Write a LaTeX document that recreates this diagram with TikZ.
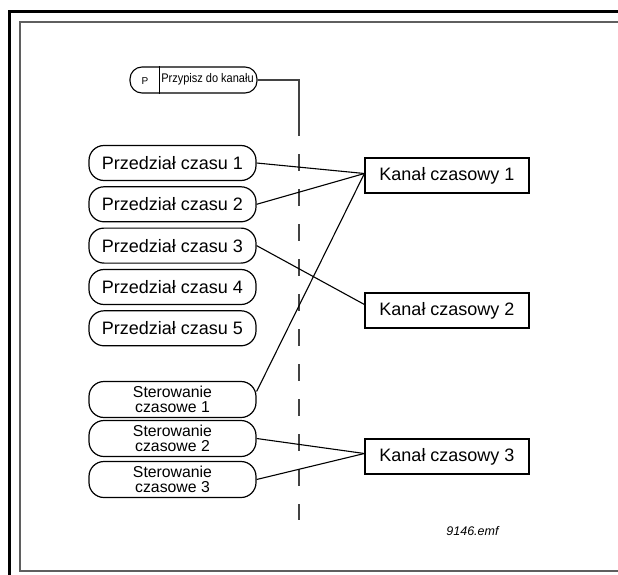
\documentclass[tikz,border=0pt]{standalone}
\usepackage{fontspec}
\setmainfont{Liberation Sans}
\usetikzlibrary{calc}
\definecolor{framegray}{RGB}{95,95,95}
\tikzset{
  pill/.style={draw, line width=1.2pt, rounded corners=15pt, minimum width=167pt, minimum height=35pt, inner sep=0pt, align=center},
  bigtxt/.style={font=\fontsize{18}{21}\selectfont},
  smalltxt/.style={font=\fontsize{15.8}{15}\selectfont},
  chanbox/.style={draw, line width=1.2pt, minimum width=164pt, minimum height=35pt, inner sep=0pt, font=\fontsize{18}{21}\selectfont},
  conn/.style={line width=1.1pt},
}
\begin{document}
\begin{tikzpicture}[x=1pt,y=-1pt]
\useasboundingbox (0,0) rectangle (618,575);
\clip (0,0) rectangle (618,575);
\fill[white] (0,0) rectangle (618,575);
% frames
\draw[line width=3pt, black] (9.5,12) rectangle (720,720);
\draw[line width=1.3pt, framegray] (20,22) rectangle (720,571);
% parameter pill
\node[draw, line width=1.1pt, rounded corners=12pt, minimum width=127pt, minimum height=26pt, inner sep=0pt] (pp) at (193.5,80) {};
\draw[line width=1.1pt] ([xshift=30pt]pp.north west) -- ([xshift=30pt]pp.south west);
\node[font=\fontsize{10}{12}\selectfont, inner sep=0pt] (ptag) at (145,81) {P};
\node[font=\fontsize{12.5}{14}\selectfont, inner sep=0pt] (ptxt) at (207.5,79) {\scalebox{0.88}[1]{Przypisz do kanału}};
% vertical line
\coordinate (vmid) at (299,136);
\coordinate (vbot) at (299,520);
\draw[line width=1.3pt, framegray!70!black] (pp.east) -| (vmid);
\draw[line width=1.3pt, framegray!70!black, dash pattern=on 17pt off 18pt, dash phase=17pt] (vmid) -- (vbot);
% time intervals
\node[pill, bigtxt] (p1) at (172.5,163) {Przedział czasu 1};
\node[pill, bigtxt] (p2) at (172.5,204.3) {Przedział czasu 2};
\node[pill, bigtxt] (p3) at (172.5,245.6) {Przedział czasu 3};
\node[pill, bigtxt] (p4) at (172.5,287) {Przedział czasu 4};
\node[pill, bigtxt] (p5) at (172.5,328.3) {Przedział czasu 5};
% time controls
\node[pill, smalltxt, minimum height=36pt] (s1) at (172.5,399.5) {Sterowanie\\czasowe 1};
\node[pill, smalltxt, minimum height=36pt] (s2) at (172.5,438.5) {Sterowanie\\czasowe 2};
\node[pill, smalltxt, minimum height=36pt] (s3) at (172.5,479.5) {Sterowanie\\czasowe 3};
% channels
\node[chanbox] (k1) at (447,175.5) {Kanał czasowy 1};
\node[chanbox] (k2) at (447,310.5) {Kanał czasowy 2};
\node[chanbox] (k3) at (447,456.5) {Kanał czasowy 3};
% connectors
\draw[conn] (p1.east) -- ([yshift=2pt]k1.west);
\draw[conn] (p2.east) -- ([yshift=2pt]k1.west);
\draw[conn] ([yshift=8pt]s1.east) -- ([yshift=2pt]k1.west);
\draw[conn] (p3.east) -- ([yshift=6pt]k2.west);
\draw[conn] (s2.east) -- ([yshift=3pt]k3.west);
\draw[conn] (s3.east) -- ([yshift=3pt]k3.west);
% file name
\node[font=\itshape\fontsize{12.5}{14}\selectfont, inner sep=0pt] (fname) at (472.5,531) {9146.emf};
\end{tikzpicture}
\end{document}
